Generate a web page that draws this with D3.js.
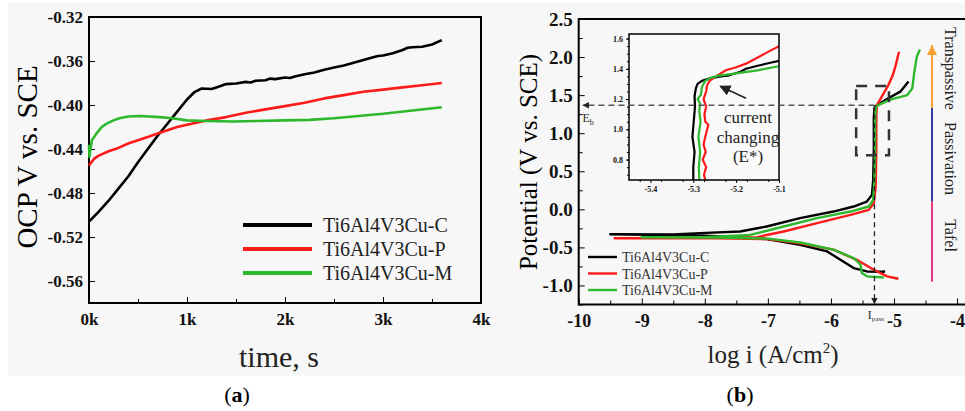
<!DOCTYPE html>
<html>
<head>
<meta charset="utf-8">
<script src="https://cdn.jsdelivr.net/npm/d3@7"></script>
<style>
  body { margin: 0; background: #fff; }
  svg { display: block; font-family: "Liberation Serif", "Times New Roman", serif; }
  .axis path, .axis line { stroke: #000; }
</style>
</head>
<body>
<div id="chart-area"></div>
<script>
// ---- data: (a) open circuit potential vs time ----
const seriesNames = ["Ti6Al4V3Cu-C", "Ti6Al4V3Cu-P", "Ti6Al4V3Cu-M"]
const seriesColors = ["#000000", "#ff1a1a", "#2db82d"]

const ocpC = [[0,-0.506],[100,-0.497],[200,-0.487],[300,-0.476],[400,-0.465],[500,-0.452],[600,-0.440],
  [700,-0.428],[800,-0.417],[900,-0.406],[1000,-0.395],[1080,-0.388],[1150,-0.385],[1250,-0.3855],[1300,-0.384],
  [1400,-0.381],[1500,-0.3805],[1600,-0.379],[1650,-0.3795],[1700,-0.378],[1800,-0.3775],[1850,-0.376],[1900,-0.3765],
  [2000,-0.375],[2050,-0.3755],[2100,-0.374],[2200,-0.372],[2300,-0.3705],[2400,-0.368],[2500,-0.366],[2600,-0.364],
  [2700,-0.3615],[2800,-0.359],[2900,-0.3565],[2950,-0.3555],[3000,-0.355],[3100,-0.353],[3200,-0.350],[3250,-0.348],
  [3300,-0.3475],[3400,-0.347],[3500,-0.345],[3600,-0.341]]
const ocpP = [[0,-0.455],[50,-0.449],[100,-0.446],[200,-0.442],[300,-0.439],[400,-0.435],[500,-0.432],[600,-0.429],
  [700,-0.426],[800,-0.423],[900,-0.420],[1000,-0.418],[1200,-0.414],[1400,-0.411],[1600,-0.407],[1800,-0.404],
  [2000,-0.401],[2200,-0.398],[2400,-0.394],[2600,-0.391],[2800,-0.388],[3000,-0.386],[3200,-0.384],[3400,-0.382],[3600,-0.380]]
const ocpM = [[0,-0.436],[5,-0.447],[15,-0.440],[30,-0.432],[75,-0.426],[130,-0.420],[180,-0.417],[250,-0.414],
  [310,-0.412],[400,-0.4105],[520,-0.410],[620,-0.4105],[720,-0.411],[850,-0.412],[1000,-0.414],[1200,-0.4145],
  [1470,-0.415],[1700,-0.4145],[2000,-0.414],[2250,-0.4135],[2500,-0.412],[2750,-0.410],[3000,-0.408],[3300,-0.405],[3600,-0.402]]

const timeTicks = [0, 1000, 2000, 3000, 4000]
const ocpTicks = [-0.56, -0.52, -0.48, -0.44, -0.40, -0.36, -0.32]

// ---- data: (b) potentiodynamic polarization (log i, E) ----
const polC = [[-5.16,-0.80],[-5.16,-0.82],[-5.43,-0.816],[-5.64,-0.772],[-5.85,-0.663],[-6.06,-0.553],[-6.49,-0.466],
  [-7.02,-0.391],[-7.5,-0.365],[-8.0,-0.345],[-9.5,-0.327],[-8.5,-0.33],[-8.075,-0.312],[-7.44,-0.291],[-7.02,-0.226],
  [-6.49,-0.116],[-5.96,-0.029],[-5.64,0.037],[-5.43,0.102],[-5.35,0.19],[-5.33,0.387],[-5.32,0.8],[-5.32,1.2],
  [-5.31,1.33],[-5.27,1.37],[-5.09,1.46],[-4.90,1.546],[-4.77,1.68]]
const polP = [[-4.93,-0.912],[-5.11,-0.88],[-5.32,-0.794],[-5.59,-0.663],[-5.96,-0.53],[-6.49,-0.445],[-7.0,-0.39],
  [-7.8,-0.382],[-9.43,-0.38],[-8.5,-0.38],[-7.17,-0.365],[-6.75,-0.291],[-6.22,-0.181],[-5.69,-0.072],[-5.40,-0.007],
  [-5.32,0.081],[-5.29,0.3],[-5.28,0.8],[-5.28,1.25],[-5.27,1.37],[-5.18,1.50],[-5.09,1.63],[-5.02,1.76],[-4.98,1.87],
  [-4.95,1.97],[-4.92,2.07]]
const polM = [[-5.16,-0.895],[-5.43,-0.88],[-5.51,-0.837],[-5.53,-0.728],[-5.64,-0.64],[-5.96,-0.53],[-6.49,-0.436],
  [-7.0,-0.385],[-7.8,-0.37],[-9.0,-0.366],[-8.0,-0.366],[-7.28,-0.335],[-6.75,-0.226],[-6.22,-0.116],[-5.69,-0.029],
  [-5.40,0.037],[-5.33,0.125],[-5.31,0.387],[-5.30,0.8],[-5.30,1.2],[-5.29,1.33],[-5.25,1.37],[-5.06,1.44],[-4.79,1.50],
  [-4.71,1.59],[-4.68,1.79],[-4.64,2.0],[-4.59,2.10]]

const logTicks = [-10, -9, -8, -7, -6, -5, -4]
const potTicks = [-1.0, -0.5, 0.0, 0.5, 1.0, 1.5, 2.0, 2.5]

// inset (zoom on the passive-to-transpassive knee)
const insetC = [[-5.300,0.665],[-5.300,0.75],[-5.297,0.85],[-5.302,0.95],[-5.299,1.05],[-5.296,1.15],[-5.297,1.22],
  [-5.294,1.27],[-5.290,1.30],[-5.280,1.32],[-5.263,1.335],[-5.240,1.348],[-5.216,1.357],[-5.19,1.38],[-5.177,1.40],
  [-5.15,1.42],[-5.12,1.44],[-5.10,1.453]]
const insetP = [[-5.272,0.665],[-5.275,0.70],[-5.270,0.75],[-5.278,0.80],[-5.271,0.85],[-5.276,0.90],[-5.272,0.95],
  [-5.265,1.03],[-5.272,1.05],[-5.274,1.10],[-5.270,1.15],[-5.276,1.20],[-5.270,1.25],[-5.268,1.29],[-5.262,1.32],
  [-5.25,1.345],[-5.224,1.39],[-5.20,1.41],[-5.177,1.434],[-5.14,1.489],[-5.12,1.52],[-5.10,1.549]]
const insetM = [[-5.286,0.665],[-5.287,0.75],[-5.284,0.85],[-5.288,0.95],[-5.283,1.05],[-5.286,1.12],[-5.284,1.17],
  [-5.290,1.20],[-5.282,1.23],[-5.280,1.28],[-5.272,1.32],[-5.26,1.34],[-5.24,1.355],[-5.20,1.37],[-5.15,1.39],[-5.10,1.417]]
const insetXTicks = [-5.4, -5.3, -5.2, -5.1]
const insetYTicks = [0.8, 1.0, 1.2, 1.4, 1.6]

// annotation anchors (data units of panel b)
const Eb = 1.367, Ipass = -5.31
const zoomBox = { x0: -5.60, x1: -5.08, y0: 0.71, y1: 1.62 }
const stages = [
  { name: "Transpassive", from: 1.33, to: 2.16, mid: 1.85, color: "#f5a030" },
  { name: "Passivation", from: 0.10, to: 1.33, mid: 0.667, color: "#2b3a9a" },
  { name: "Tafel", from: -0.95, to: 0.10, mid: -0.344, color: "#e8337f" }
]
const stageX = -4.397, stageTextX = -4.19

const WIDTH = 965, HEIGHT = 411

// plain hyphen instead of unicode minus, like the original figure
function fmt(spec) {
  const f = d3.format(spec)
  return function(d) { return f(d).replace("\u2212", "-") }
}
function styleTicks(sel, size) {
  sel.selectAll("text")
    .attr("font-size", size)
    .attr("font-family", "Liberation Serif")
    .attr("font-weight", "bold")
    .attr("fill", "#111")
}

const svg = d3.select("#chart-area").append("svg")
  .attr("width", WIDTH)
  .attr("height", HEIGHT)

svg.append("rect")
  .attr("x", 8).attr("y", 3)
  .attr("width", WIDTH - 8).attr("height", 373)
  .attr("fill", "#f7f7f7")

// ================= panel (a) =================
const xa = d3.scaleLinear().domain([0, 4000]).range([89, 481])
const ya = d3.scaleLinear().domain([-0.58, -0.32]).range([303, 17])

const ga = svg.append("g")

ga.append("g")
  .attr("class", "axis")
  .attr("transform", "translate(0," + ya.range()[0] + ")")
  .call(d3.axisBottom(xa).tickValues(d3.range(500, 4000, 1000)).tickSize(-4).tickFormat(""))
ga.append("g")
  .attr("class", "axis")
  .attr("transform", "translate(0," + ya.range()[0] + ")")
  .call(d3.axisBottom(xa).tickValues(timeTicks).tickSizeInner(-6).tickSizeOuter(0).tickPadding(10)
    .tickFormat(function(d) { return (d / 1000) + "k" }))
  .call(styleTicks, "17px")

ga.append("g")
  .attr("class", "axis")
  .attr("transform", "translate(" + xa.range()[0] + ",0)")
  .call(d3.axisLeft(ya).tickValues(ocpTicks).tickSizeInner(-6).tickSizeOuter(0).tickPadding(6)
    .tickFormat(fmt(".2f")))
  .call(styleTicks, "17px")

ga.append("rect")
  .attr("x", xa.range()[0]).attr("y", ya.range()[1])
  .attr("width", xa.range()[1] - xa.range()[0]).attr("height", ya.range()[0] - ya.range()[1])
  .attr("fill", "none").attr("stroke", "#000").attr("stroke-width", 2)

const lineA = d3.line().x(function(d) { return xa(d[0]) }).y(function(d) { return ya(d[1]) })
const ocpData = [ocpC, ocpP, ocpM]
ocpData.forEach(function(s, i) {
  ga.append("path").datum(s)
    .attr("d", lineA)
    .attr("fill", "none")
    .attr("stroke", seriesColors[i])
    .attr("stroke-width", 2.6)
    .attr("stroke-linejoin", "round")
})

// legend (a)
seriesNames.forEach(function(n, i) {
  const y = 225 + i * 24
  ga.append("line").attr("x1", 243).attr("x2", 312).attr("y1", y).attr("y2", y)
    .attr("stroke", seriesColors[i]).attr("stroke-width", 4)
  ga.append("text").attr("x", 323).attr("y", y + 7)
    .attr("font-size", "20px").attr("fill", "#222").text(n)
})

// labels (a)
ga.append("text")
  .attr("transform", "translate(37,157) rotate(-90)")
  .attr("text-anchor", "middle")
  .attr("font-size", "29px")
  .text("OCP V vs. SCE")
ga.append("text")
  .attr("x", 279).attr("y", 367)
  .attr("text-anchor", "middle")
  .attr("font-size", "30px")
  .attr("fill", "#222")
  .text("time, s")
const ta = ga.append("text").attr("x", 237).attr("y", 402).attr("text-anchor", "middle").attr("font-size", "22px")
ta.append("tspan").text("(")
ta.append("tspan").attr("font-weight", "bold").text("a")
ta.append("tspan").text(")")

// ================= panel (b) =================
const xb = d3.scaleLinear().domain([-10, -3.89]).range([578.7, 964])
const yb = d3.scaleLinear().domain([-1.25, 2.5]).range([304.5, 19])

const gb = svg.append("g")

gb.append("g")
  .attr("class", "axis")
  .attr("transform", "translate(0," + yb.range()[0] + ")")
  .call(d3.axisBottom(xb).tickValues(d3.range(-9.5, -3.9, 1)).tickSize(-4).tickFormat(""))
gb.append("g")
  .attr("class", "axis")
  .attr("transform", "translate(0," + yb.range()[0] + ")")
  .call(d3.axisBottom(xb).tickValues(logTicks).tickSizeInner(-6).tickSizeOuter(0).tickPadding(10)
    .tickFormat(fmt("d")))
  .call(styleTicks, "18px")

gb.append("g")
  .attr("class", "axis")
  .attr("transform", "translate(" + xb.range()[0] + ",0)")
  .call(d3.axisLeft(yb).tickValues(d3.range(-1.25, 2.5, 0.5)).tickSize(-4).tickFormat(""))
gb.append("g")
  .attr("class", "axis")
  .attr("transform", "translate(" + xb.range()[0] + ",0)")
  .call(d3.axisLeft(yb).tickValues(potTicks).tickSizeInner(-6).tickSizeOuter(0).tickPadding(6)
    .tickFormat(fmt(".1f")))
  .call(styleTicks, "19px")

gb.selectAll(".axis path.domain").remove()
gb.append("rect")
  .attr("x", xb.range()[0]).attr("y", yb.range()[1])
  .attr("width", xb.range()[1] - xb.range()[0] + 4).attr("height", yb.range()[0] - yb.range()[1])
  .attr("fill", "none").attr("stroke", "#000").attr("stroke-width", 2)

const lineB = d3.line().x(function(d) { return xb(d[0]) }).y(function(d) { return yb(d[1]) })
const polData = [polC, polP, polM]
polData.forEach(function(s, i) {
  gb.append("path").datum(s)
    .attr("d", lineB)
    .attr("fill", "none")
    .attr("stroke", seriesColors[i])
    .attr("stroke-width", 2.4)
    .attr("stroke-linejoin", "round")
})

// inset
const xi = d3.scaleLinear().domain([-5.45, -5.1]).range([629, 779])
const yi = d3.scaleLinear().domain([0.665, 1.63]).range([180, 34])

svg.append("clipPath").attr("id", "inset-clip")
  .append("rect")
  .attr("x", xi.range()[0]).attr("y", yi.range()[1])
  .attr("width", xi.range()[1] - xi.range()[0]).attr("height", yi.range()[0] - yi.range()[1])

const gi = gb.append("g")
gi.append("rect")
  .attr("x", xi.range()[0]).attr("y", yi.range()[1])
  .attr("width", xi.range()[1] - xi.range()[0]).attr("height", yi.range()[0] - yi.range()[1])
  .attr("fill", "#fafafa")

gi.append("g")
  .attr("class", "axis")
  .attr("transform", "translate(0," + yi.range()[0] + ")")
  .call(d3.axisBottom(xi).tickValues(d3.range(-5.425, -5.1, 0.05)).tickSize(2).tickFormat(""))
gi.append("g")
  .attr("class", "axis")
  .attr("transform", "translate(0," + yi.range()[0] + ")")
  .call(d3.axisBottom(xi).tickValues(insetXTicks).tickSizeInner(3).tickSizeOuter(0).tickPadding(3)
    .tickFormat(fmt(".1f")))
  .call(styleTicks, "8px")
gi.append("g")
  .attr("class", "axis")
  .attr("transform", "translate(" + xi.range()[0] + ",0)")
  .call(d3.axisLeft(yi).tickValues(d3.range(0.7, 1.63, 0.05)).tickSize(2).tickFormat(""))
gi.append("g")
  .attr("class", "axis")
  .attr("transform", "translate(" + xi.range()[0] + ",0)")
  .call(d3.axisLeft(yi).tickValues(insetYTicks).tickSizeInner(3).tickSizeOuter(0).tickPadding(3)
    .tickFormat(fmt(".1f")))
  .call(styleTicks, "8px")
gi.selectAll(".axis path.domain").remove()

const lineI = d3.line().x(function(d) { return xi(d[0]) }).y(function(d) { return yi(d[1]) })
const insetData = [insetC, insetP, insetM]
insetData.forEach(function(s, i) {
  gi.append("path").datum(s)
    .attr("clip-path", "url(#inset-clip)")
    .attr("d", lineI)
    .attr("fill", "none")
    .attr("stroke", seriesColors[i])
    .attr("stroke-width", 2.2)
    .attr("stroke-linejoin", "round")
})
gi.append("rect")
  .attr("x", xi.range()[0]).attr("y", yi.range()[1])
  .attr("width", xi.range()[1] - xi.range()[0]).attr("height", yi.range()[0] - yi.range()[1])
  .attr("fill", "none").attr("stroke", "#000").attr("stroke-width", 1.5)

// arrow heads
const defs = svg.append("defs")
defs.append("marker").attr("id", "ah").attr("viewBox", "0 0 10 10")
  .attr("refX", 9).attr("refY", 5).attr("markerWidth", 7).attr("markerHeight", 7)
  .attr("orient", "auto-start-reverse")
  .append("path").attr("d", "M0,0 L10,5 L0,10 z").attr("fill", "#222")
defs.append("marker").attr("id", "ahs").attr("viewBox", "0 0 10 10")
  .attr("refX", 9).attr("refY", 5).attr("markerWidth", 5).attr("markerHeight", 5)
  .attr("orient", "auto-start-reverse")
  .append("path").attr("d", "M0,0 L10,5 L0,10 z").attr("fill", "#222")

// inset arrow + text
gi.append("line")
  .attr("x1", xi(-5.177)).attr("y1", yi(1.205))
  .attr("x2", xi(-5.237)).attr("y2", yi(1.285))
  .attr("stroke", "#222").attr("stroke-width", 1.6)
  .attr("marker-end", "url(#ah)")
const noteLines = ["current", "changing", "(E*)"]
noteLines.forEach(function(t, i) {
  gi.append("text")
    .attr("x", 748).attr("y", 123 + i * 19.5)
    .attr("text-anchor", "middle")
    .attr("font-size", "17px")
    .attr("fill", "#222")
    .text(t)
})

// Eb dashed line, Ipass dashed line
gb.append("line")
  .attr("x1", xb(Ipass)).attr("y1", yb(Eb))
  .attr("x2", xb(-9.93)).attr("y2", yb(Eb))
  .attr("stroke", "#555").attr("stroke-width", 1.3)
  .attr("stroke-dasharray", "6,4")
  .attr("marker-end", "url(#ahs)")
gb.append("line")
  .attr("x1", xb(Ipass)).attr("y1", yb(Eb))
  .attr("x2", xb(Ipass)).attr("y2", yb(-1.24))
  .attr("stroke", "#222").attr("stroke-width", 1.3)
  .attr("stroke-dasharray", "5,4")
  .attr("marker-end", "url(#ahs)")

const eb = gb.append("text").attr("x", xb(-9.94)).attr("y", 122).attr("font-size", "12px").attr("fill", "#333")
eb.append("tspan").text("E")
eb.append("tspan").attr("font-size", "8px").attr("dy", 3).text("b")
const ip = gb.append("text").attr("x", xb(-5.42)).attr("y", 319).attr("font-size", "13px").attr("fill", "#333")
ip.append("tspan").text("I")
ip.append("tspan").attr("font-size", "7px").attr("dy", 2).text("pass")

// zoom box
gb.append("rect")
  .attr("x", xb(zoomBox.x0)).attr("y", yb(zoomBox.y1))
  .attr("width", xb(zoomBox.x1) - xb(zoomBox.x0)).attr("height", yb(zoomBox.y0) - yb(zoomBox.y1))
  .attr("fill", "none").attr("stroke", "#333").attr("stroke-width", 2.5)
  .attr("stroke-dasharray", "11,8")

// stage bar
stages.forEach(function(s) {
  gb.append("line")
    .attr("x1", xb(stageX)).attr("x2", xb(stageX))
    .attr("y1", yb(s.from)).attr("y2", yb(s.to))
    .attr("stroke", s.color).attr("stroke-width", 2)
  gb.append("text")
    .attr("transform", "translate(" + xb(stageTextX) + "," + yb(s.mid) + ") rotate(90)")
    .attr("text-anchor", "middle")
    .attr("font-size", "16px")
    .attr("fill", "#222")
    .text(s.name)
})
const tip = stages[0]
gb.append("path")
  .attr("d", "M" + (xb(stageX) - 5) + "," + (yb(tip.to) + 10) + " L" + xb(stageX) + "," + yb(tip.to) +
    " L" + (xb(stageX) + 5) + "," + (yb(tip.to) + 10) + " z")
  .attr("fill", tip.color)

// legend (b)
seriesNames.forEach(function(n, i) {
  const y = 257 + i * 16.5
  gb.append("line").attr("x1", 588).attr("x2", 617).attr("y1", y).attr("y2", y)
    .attr("stroke", seriesColors[i]).attr("stroke-width", 2.4)
  gb.append("text").attr("x", 622).attr("y", y + 5)
    .attr("font-size", "14px").attr("fill", "#333").text(n)
})

// labels (b)
gb.append("text")
  .attr("transform", "translate(537,162) rotate(-90)")
  .attr("text-anchor", "middle")
  .attr("font-size", "25px")
  .text("Potential (V vs. SCE)")
const xl = gb.append("text").attr("x", 773).attr("y", 363).attr("text-anchor", "middle")
  .attr("font-size", "25px").attr("fill", "#222")
xl.append("tspan").text("log i (A/cm")
xl.append("tspan").attr("font-size", "15px").attr("dy", -10).text("2")
xl.append("tspan").attr("dy", 10).text(")")
const tb = gb.append("text").attr("x", 740).attr("y", 402).attr("text-anchor", "middle").attr("font-size", "22px")
tb.append("tspan").text("(")
tb.append("tspan").attr("font-weight", "bold").text("b")
tb.append("tspan").text(")")
</script>
</body>
</html>
